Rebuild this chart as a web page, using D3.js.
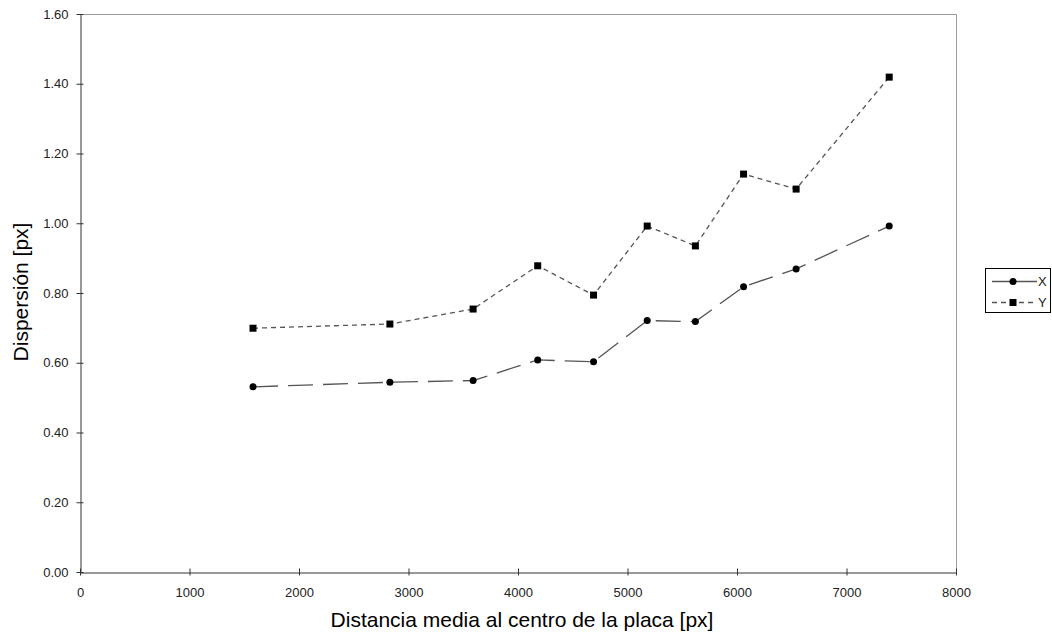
<!DOCTYPE html>
<html>
<head>
<meta charset="utf-8">
<script src="https://cdn.jsdelivr.net/npm/d3@7"></script>
<style>
  html, body { margin: 0; padding: 0; background: #fff; }
  svg { display: block; font-family: "Liberation Sans", Arial, sans-serif; }
</style>
</head>
<body>
<svg id="chart" width="1052" height="635"></svg>
<script>
const distances = [1580, 2830, 3590, 4180, 4690, 5180, 5620, 6060, 6540, 7390];
const seriesX = [0.531, 0.544, 0.549, 0.608, 0.603, 0.721, 0.718, 0.818, 0.869, 0.992];
const seriesY = [0.699, 0.711, 0.754, 0.878, 0.794, 0.992, 0.935, 1.141, 1.098, 1.419];
const xTicks = [0, 1000, 2000, 3000, 4000, 5000, 6000, 7000, 8000];
const yTicks = [0, 0.2, 0.4, 0.6, 0.8, 1.0, 1.2, 1.4, 1.6];
const seriesNames = ["X", "Y"];
const xTitle = "Distancia media al centro de la placa [px]";
const yTitle = "Dispersión [px]";

const svg = d3.select("#chart");
const L = 80, R = 956, T = 14, B = 572;

const x = d3.scaleLinear().domain([0, 8000]).range([L, R]);
const y = d3.scaleLinear().domain([0, 1.6]).range([B, T]);

// top / right border (light gray)
svg.append("path")
  .attr("d", `M${L},${T + 0.5}H${R + 0.5}V${B}`)
  .attr("fill", "none").attr("stroke", "#9a9a9a").attr("stroke-width", 1);

// Y axis
const yAxis = d3.axisLeft(y).tickValues(yTicks).tickFormat(d3.format(".2f"))
  .tickSizeInner(4).tickSizeOuter(0).tickPadding(8);
const gy = svg.append("g").attr("transform", `translate(${L + 0.5},0)`).call(yAxis);
gy.select(".domain").attr("stroke", "#333");
gy.selectAll(".tick line").attr("x2", -4).attr("x1", 3).attr("stroke", "#333");
gy.selectAll(".tick text").attr("font-size", 13).attr("fill", "#222")
  .attr("font-family", "'Liberation Sans', Arial, sans-serif").attr("x", -12);

// X axis
const xAxis = d3.axisBottom(x).tickValues(xTicks).tickFormat(d3.format("d"))
  .tickSizeInner(4).tickSizeOuter(0).tickPadding(11);
const gx = svg.append("g").attr("transform", `translate(0,${B + 0.5})`).call(xAxis);
gx.select(".domain").attr("stroke", "#333");
gx.selectAll(".tick line").attr("y1", -4).attr("y2", 3).attr("stroke", "#333");
gx.selectAll(".tick text").attr("font-size", 13).attr("fill", "#222")
  .attr("font-family", "'Liberation Sans', Arial, sans-serif");

// Axis titles
svg.append("text").attr("x", 522).attr("y", 627).attr("text-anchor", "middle")
  .attr("font-size", 21).attr("fill", "#000").text(xTitle);
svg.append("text").attr("transform", `translate(28,292) rotate(-90)`)
  .attr("text-anchor", "middle").attr("font-size", 21).attr("fill", "#000").text(yTitle);

// Lines
const line = d3.line().x(d => x(d[0])).y(d => y(d[1]));
const dataX = distances.map((d, i) => [d, seriesX[i]]);
const dataY = distances.map((d, i) => [d, seriesY[i]]);

const dashX = "25,10";
const dashY = "5,4";

svg.append("path").datum(dataX).attr("d", line).attr("fill", "none")
  .attr("stroke", "#555").attr("stroke-width", 1.3).attr("stroke-dasharray", dashX);
svg.append("path").datum(dataY).attr("d", line).attr("fill", "none")
  .attr("stroke", "#555").attr("stroke-width", 1.3).attr("stroke-dasharray", dashY);

svg.append("g").selectAll("circle").data(dataX).join("circle")
  .attr("cx", d => x(d[0])).attr("cy", d => y(d[1])).attr("r", 3.5).attr("fill", "#000");
svg.append("g").selectAll("rect").data(dataY).join("rect")
  .attr("x", d => x(d[0]) - 3.5).attr("y", d => y(d[1]) - 3.5)
  .attr("width", 7).attr("height", 7).attr("fill", "#000");

// Legend
const lg = svg.append("g");
lg.append("rect").attr("x", 985.5).attr("y", 268.5).attr("width", 65).attr("height", 44)
  .attr("fill", "#fff").attr("stroke", "#000").attr("stroke-width", 1);
const rows = [
  { name: seriesNames[0], y: 281.5, dash: null, shape: "circle" },
  { name: seriesNames[1], y: 302.5, dash: "5,4", shape: "square" }
];
rows.forEach(r => {
  lg.append("line").attr("x1", 992).attr("x2", 1037).attr("y1", r.y).attr("y2", r.y)
    .attr("stroke", "#555").attr("stroke-width", 1.3)
    .attr("stroke-dasharray", r.dash);
  if (r.shape === "circle") {
    lg.append("circle").attr("cx", 1013).attr("cy", r.y).attr("r", 3.5).attr("fill", "#000");
  } else {
    lg.append("rect").attr("x", 1009.5).attr("y", r.y - 3.5).attr("width", 7).attr("height", 7).attr("fill", "#000");
  }
  lg.append("text").attr("x", 1038).attr("y", r.y).attr("dy", "0.35em")
    .attr("font-size", 13).attr("fill", "#222").text(r.name);
});
</script>
</body>
</html>
